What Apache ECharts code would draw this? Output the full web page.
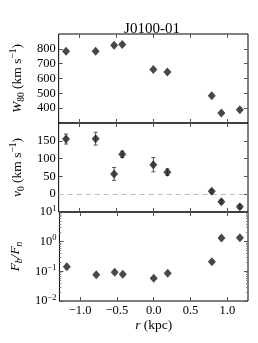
<!DOCTYPE html>
<html><head><meta charset="utf-8">
<script src="https://cdn.jsdelivr.net/npm/echarts@6/dist/echarts.min.js"></script>
<style>html,body{margin:0;padding:0;background:#fff}#c{width:258px;height:343px}</style>
</head><body><div id="c"></div>
<script>
const rKpc = [-1.18, -0.78, -0.53, -0.42, 0.0, 0.19, 0.79, 0.92, 1.17];
const w80 = [784, 784, 825, 829, 660, 644, 483, 368, 389];
const v0 = [155, 156, 57, 112, 83, 62, 8, -21, -35];
const v0Err = [14, 18, 18, 9, 20, 9, 5, 5, 5];
const fluxRatio = [0.144, 0.076, 0.093, 0.080, 0.059, 0.087, 0.21, 1.33, 1.36];
const xTicks = [-1.0, -0.5, 0.0, 0.5, 1.0];
const w80Ticks = [400, 500, 600, 700, 800];
const v0Ticks = [0, 50, 100, 150];

const FONT = 'Liberation Serif';
const chart = echarts.init(document.getElementById('c'));
const tops = [34, 123, 212];
const H = 89;
const TICK = '#555';
const grids = tops.map(t => ({left: 49, right: 10, top: t, height: H, show: true, borderColor: '#000', borderWidth: 1, backgroundColor: 'transparent'}));
const minus = s => String(s).replace('-', '\u2212');
const rich = {
  i: {fontFamily: FONT, fontStyle: 'italic', fontSize: 13.5, color: '#000', lineHeight: 18, verticalAlign: 'middle'},
  n: {fontFamily: FONT, fontSize: 13.5, color: '#000', lineHeight: 18, verticalAlign: 'middle'},
  sub: {fontFamily: FONT, fontSize: 9.5, color: '#000', lineHeight: 18, verticalAlign: 'bottom'},
  subi: {fontFamily: FONT, fontStyle: 'italic', fontSize: 9.5, color: '#000', lineHeight: 18, verticalAlign: 'bottom'},
  sup: {fontFamily: FONT, fontSize: 9.5, color: '#000', lineHeight: 18, verticalAlign: 'top'}
};
const tickRich = {
  n: {fontFamily: FONT, fontSize: 12.5, color: '#000', lineHeight: 16, verticalAlign: 'middle'},
  sup: {fontFamily: FONT, fontSize: 8.5, color: '#000', lineHeight: 16, verticalAlign: 'top'}
};
function xAxis(gi, pos, labels) {
  return {
    type: 'value', gridIndex: gi, position: pos, min: -1.28, max: 1.28,
    splitLine: {show: false}, axisLine: {show: false, onZero: false},
    axisTick: {show: true, inside: true, length: 4, lineStyle: {color: TICK}, customValues: xTicks},
    axisLabel: {show: labels, customValues: xTicks, fontFamily: FONT, fontSize: 12.5, color: '#000', margin: 3,
      formatter: v => minus(v.toFixed(1))},
    name: labels ? '{i|r}{n| (kpc)}' : '', nameLocation: 'middle', nameGap: 15,
    nameTextStyle: {rich: rich}
  };
}
function yAxisLin(gi, pos, min, max, ticks, labels, name, gap) {
  return {
    type: 'value', gridIndex: gi, position: pos, min: min, max: max,
    splitLine: {show: false}, axisLine: {show: false, onZero: false},
    axisTick: {show: true, inside: true, length: 4, lineStyle: {color: TICK}, customValues: ticks},
    axisLabel: {show: labels, customValues: ticks, fontFamily: FONT, fontSize: 12.5, color: '#000', margin: 3,
      formatter: v => minus(v)},
    name: name || '', nameLocation: 'middle', nameRotate: 90, nameGap: gap || 30,
    nameTextStyle: {rich: rich}
  };
}
function yAxisLog(gi, pos, labels, name, gap) {
  return {
    type: 'log', logBase: 10, gridIndex: gi, position: pos, min: 0.01, max: 10,
    splitLine: {show: false}, axisLine: {show: false, onZero: false},
    axisTick: {show: true, inside: true, length: 4, lineStyle: {color: TICK}},
    minorTick: {show: true, splitNumber: 9, length: 2, lineStyle: {color: '#888'}},
    axisLabel: {show: labels, fontFamily: FONT, color: '#000', margin: 3,
      formatter: v => '{n|10}{sup|' + minus(Math.round(Math.log10(v))) + '}', rich: tickRich},
    name: name || '', nameLocation: 'middle', nameRotate: 90, nameGap: gap || 30,
    nameTextStyle: {rich: rich}
  };
}
const diamond = {symbol: 'diamond', symbolSize: [8, 9], itemStyle: {color: '#1a1a1a'}};
const option = {
  animation: false,
  title: {text: 'J0100-01', left: 147, textAlign: 'center', top: 17,
    textStyle: {fontFamily: FONT, fontSize: 15, fontWeight: 'normal', color: '#000'}},
  grid: grids,
  xAxis: [xAxis(0, 'bottom', false), xAxis(1, 'bottom', false), xAxis(2, 'bottom', true),
          xAxis(0, 'top', false), xAxis(1, 'top', false), xAxis(2, 'top', false)],
  yAxis: [
    yAxisLin(0, 'left', 300, 900, w80Ticks, true, '{i|W}{sub|80}{n| (km s}{sup|\u22121}{n|)}', 25),
    yAxisLin(1, 'left', -50, 200, v0Ticks, true, '{i|v}{sub|0}{n| (km s}{sup|\u22121}{n|)}', 26),
    yAxisLog(2, 'left', true, '{i|F}{subi|b}{i|/F}{subi|n}', 21),
    yAxisLin(0, 'right', 300, 900, w80Ticks, false),
    yAxisLin(1, 'right', -50, 200, v0Ticks, false),
    yAxisLog(2, 'right', false)
  ],
  series: [
    Object.assign({type: 'scatter', xAxisIndex: 0, yAxisIndex: 0, data: rKpc.map((x, i) => [x, w80[i]]), z: 5}, diamond),
    {type: 'custom', xAxisIndex: 1, yAxisIndex: 1, z: 3,
      data: rKpc.map((x, i) => [x, v0[i], v0Err[i]]),
      renderItem: (params, api) => {
        const x = api.value(0), y = api.value(1), e = api.value(2);
        const p0 = api.coord([x, y - e]), p1 = api.coord([x, y + e]);
        const w = 2, st = {stroke: '#555', lineWidth: 1};
        return {type: 'group', children: [
          {type: 'line', shape: {x1: p0[0], y1: p0[1], x2: p1[0], y2: p1[1]}, style: st},
          {type: 'line', shape: {x1: p0[0] - w, y1: p0[1], x2: p0[0] + w, y2: p0[1]}, style: st},
          {type: 'line', shape: {x1: p1[0] - w, y1: p1[1], x2: p1[0] + w, y2: p1[1]}, style: st}
        ]};
      }},
    Object.assign({type: 'scatter', xAxisIndex: 1, yAxisIndex: 1, data: rKpc.map((x, i) => [x, v0[i]]), z: 5,
      markLine: {silent: true, symbol: 'none', label: {show: false},
        lineStyle: {color: '#bbb', type: [5, 4], width: 1}, data: [{yAxis: 0}]}}, diamond),
    Object.assign({type: 'scatter', xAxisIndex: 2, yAxisIndex: 2, data: rKpc.map((x, i) => [x, fluxRatio[i]]), z: 5}, diamond)
  ]
};
chart.setOption(option);
</script></body></html>
